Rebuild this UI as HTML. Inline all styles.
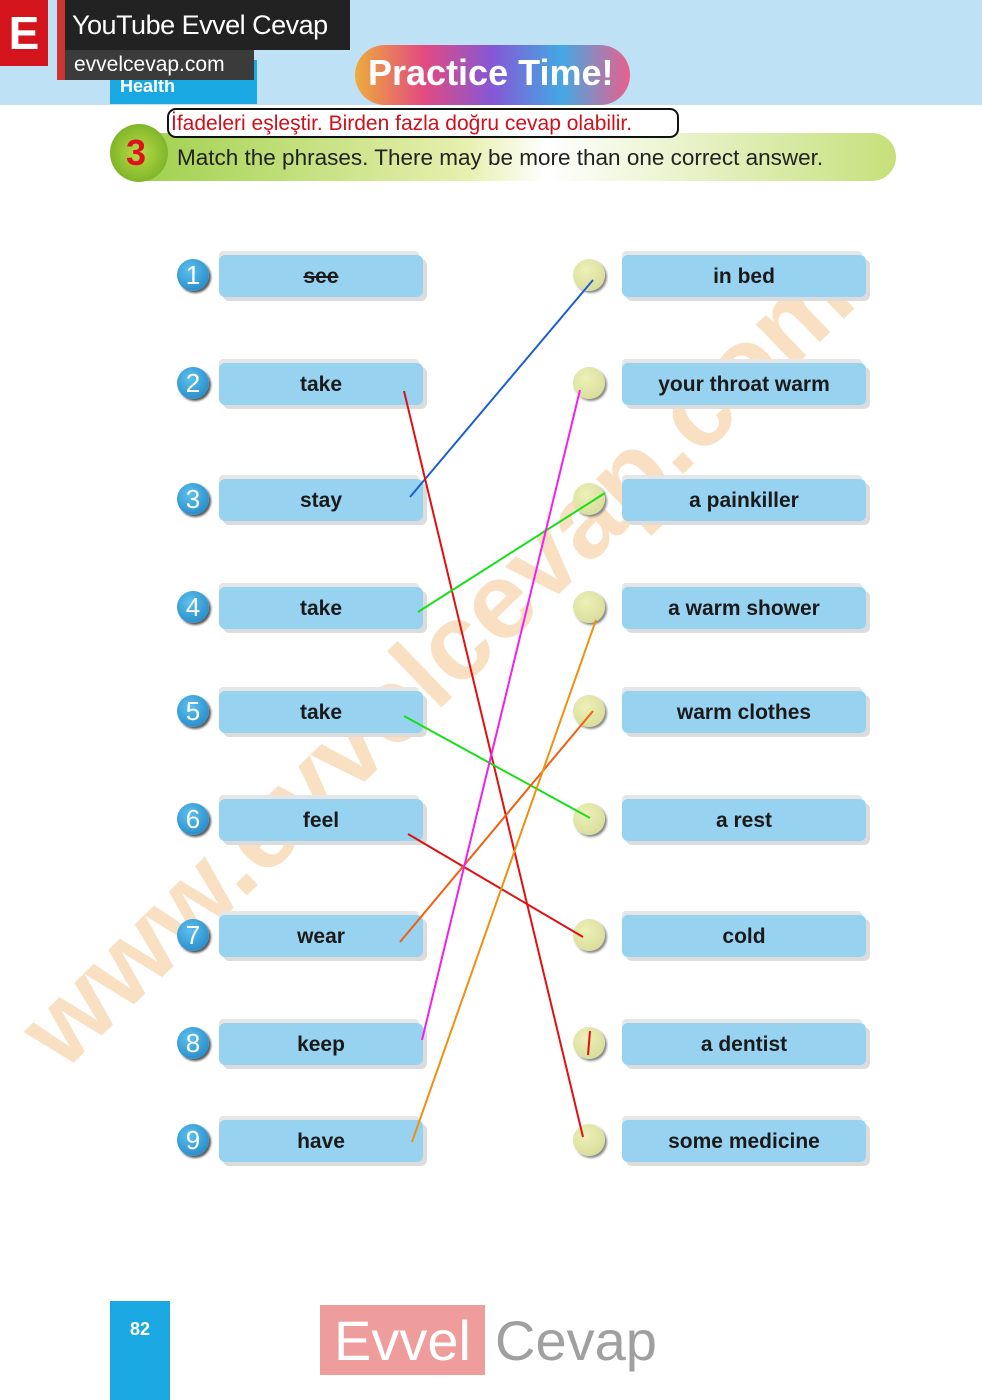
<!DOCTYPE html>
<html><head><meta charset="utf-8"><style>
body{margin:0;width:982px;height:1400px;position:relative;background:#fff;font-family:"Liberation Sans",sans-serif;overflow:hidden}
.a{position:absolute}
.box{position:absolute;height:42px;background:#97d3f1;border-radius:6px;box-shadow:4px 4px 0 #dcdcdc,-2px -6px 0 -2px #e6e6e6;text-align:center;line-height:44px;font-weight:bold;font-size:21px;color:#1a1a1a}
.num{position:absolute;width:32px;height:32px;border-radius:50%;background:radial-gradient(circle at 40% 35%,#5cc0ee,#1a7fc0);color:#fff;font-size:26px;text-align:center;line-height:33px;box-shadow:2px 2px 2px #555}
.dot{position:absolute;width:32px;height:32px;border-radius:50%;background:radial-gradient(circle at 40% 35%,#eef0b8,#d2d892);box-shadow:2px 2px 2px #888}
</style></head><body>
<div class="a" style="left:0;top:0;width:982px;height:105px;background:#bfe1f5"></div>
<div class="a" style="left:110px;top:60px;width:147px;height:44px;background:#1aa8e2;color:#fff;font-weight:bold;font-size:18px;padding-left:10px;box-sizing:border-box;line-height:52px;overflow:hidden">Health</div>

<div class="a" style="left:75px;top:1085px;transform:rotate(-44deg);transform-origin:left bottom;font-size:108px;line-height:108px;height:108px;margin-top:-108px;font-weight:bold;color:#f3b36a;opacity:.4;white-space:nowrap">www.evvelcevap.com</div>

<div class="a" style="left:0;top:0;width:48px;height:66px;background:#d4141c;color:#fff;font-size:46px;font-weight:bold;text-align:center;line-height:66px">E</div>
<div class="a" style="left:57px;top:0;width:293px;height:50px;background:#222;color:#fff;font-size:27px;line-height:50px;padding-left:15px;box-sizing:border-box;white-space:nowrap;overflow:hidden;letter-spacing:-0.5px">YouTube Evvel Cevap</div>
<div class="a" style="left:57px;top:50px;width:197px;height:30px;background:#3b3b3b;color:#fff;font-size:21px;line-height:30px;padding-left:17px;box-sizing:border-box;white-space:nowrap;overflow:hidden">evvelcevap.com</div>
<div class="a" style="left:57px;top:0;width:8px;height:80px;background:#c33"></div>
<div class="a" style="left:355px;top:45px;width:275px;height:60px;border-radius:30px;background:linear-gradient(90deg,#f6a21c,#e8306a,#7a3fd0,#2e9ee0,#f04a7a);opacity:.85"></div>
<div class="a" style="left:368px;top:52px;font-size:36px;font-weight:bold;color:#fff">Practice Time!</div>
<div class="a" style="left:120px;top:133px;width:776px;height:48px;border-radius:24px;background:linear-gradient(90deg,#9ccf48,#e8f0b0 45%,#fff 55%,#c6e07a)"></div>
<div class="a" style="left:110px;top:124px;width:58px;height:58px;border-radius:50%;background:radial-gradient(#b7dc4a,#6aa61a)"></div>
<div class="a" style="left:126px;top:132px;font-size:36px;font-weight:bold;color:#e2101c">3</div>
<div class="a" style="left:177px;top:145px;font-size:22.5px;color:#222;white-space:nowrap">Match the phrases. There may be more than one correct answer.</div>
<div class="a" style="left:167px;top:108px;width:512px;height:30px;border:2px solid #111;border-radius:9px;background:#fff;color:#d0101a;font-size:21px;line-height:28px;padding-left:2px;box-sizing:border-box;white-space:nowrap">İfadeleri eşleştir. Birden fazla doğru cevap olabilir.</div>

<div class="num" style="left:177px;top:259px">1</div><div class="box" style="left:219px;top:255px;width:204px"><s>see</s></div>
<div class="num" style="left:177px;top:367px">2</div><div class="box" style="left:219px;top:363px;width:204px">take</div>
<div class="num" style="left:177px;top:483px">3</div><div class="box" style="left:219px;top:479px;width:204px">stay</div>
<div class="num" style="left:177px;top:591px">4</div><div class="box" style="left:219px;top:587px;width:204px">take</div>
<div class="num" style="left:177px;top:695px">5</div><div class="box" style="left:219px;top:691px;width:204px">take</div>
<div class="num" style="left:177px;top:803px">6</div><div class="box" style="left:219px;top:799px;width:204px">feel</div>
<div class="num" style="left:177px;top:919px">7</div><div class="box" style="left:219px;top:915px;width:204px">wear</div>
<div class="num" style="left:177px;top:1027px">8</div><div class="box" style="left:219px;top:1023px;width:204px">keep</div>
<div class="num" style="left:177px;top:1124px">9</div><div class="box" style="left:219px;top:1120px;width:204px">have</div>

<div class="dot" style="left:573px;top:259px"></div><div class="box" style="left:622px;top:255px;width:244px">in bed</div>
<div class="dot" style="left:573px;top:367px"></div><div class="box" style="left:622px;top:363px;width:244px">your throat warm</div>
<div class="dot" style="left:573px;top:483px"></div><div class="box" style="left:622px;top:479px;width:244px">a painkiller</div>
<div class="dot" style="left:573px;top:591px"></div><div class="box" style="left:622px;top:587px;width:244px">a warm shower</div>
<div class="dot" style="left:573px;top:695px"></div><div class="box" style="left:622px;top:691px;width:244px">warm clothes</div>
<div class="dot" style="left:573px;top:803px"></div><div class="box" style="left:622px;top:799px;width:244px">a rest</div>
<div class="dot" style="left:573px;top:919px"></div><div class="box" style="left:622px;top:915px;width:244px">cold</div>
<div class="dot" style="left:573px;top:1027px"></div><div class="box" style="left:622px;top:1023px;width:244px">a dentist</div>
<div class="dot" style="left:573px;top:1124px"></div><div class="box" style="left:622px;top:1120px;width:244px">some medicine</div>

<svg class="a" style="left:0;top:0" width="982" height="1400">
<g stroke-width="2" fill="none">
<line x1="410" y1="497" x2="593" y2="280" stroke="#1a5fd0"/>
<line x1="404" y1="391" x2="583" y2="1137" stroke="#e01010"/>
<line x1="418" y1="612" x2="605" y2="493" stroke="#18e018"/>
<line x1="404" y1="716" x2="590" y2="818" stroke="#18e018"/>
<line x1="408" y1="834" x2="583" y2="937" stroke="#e01010"/>
<line x1="400" y1="942" x2="593" y2="711" stroke="#f06010"/>
<line x1="422" y1="1040" x2="580" y2="390" stroke="#f020f0"/>
<line x1="412" y1="1142" x2="596" y2="620" stroke="#f09010"/>
<line x1="590" y1="1031" x2="588" y2="1055" stroke="#e01010"/>
</g></svg>

<div class="a" style="left:110px;top:1301px;width:60px;height:99px;background:#1aa8e2;color:#fff;font-weight:bold;font-size:18px;text-align:center;line-height:56px">82</div>
<div class="a" style="left:320px;top:1305px;width:165px;height:70px;background:#ef9c9c;color:#fff;font-size:56px;text-align:center;line-height:72px">Evvel</div>
<div class="a" style="left:495px;top:1305px;color:#a0a0a0;font-size:56px;line-height:72px">Cevap</div>
</body></html>
